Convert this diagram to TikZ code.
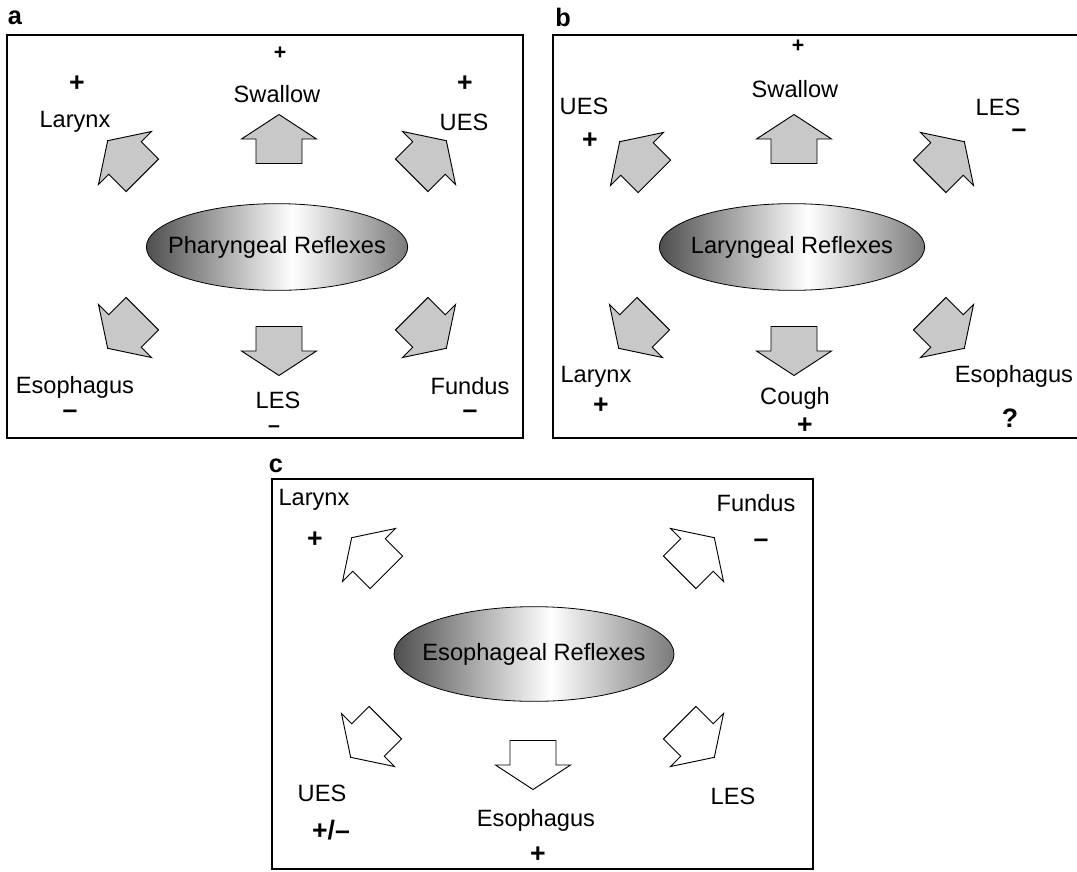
\documentclass[tikz,border=0pt]{standalone}
\usepackage{fontspec}
\setmainfont{Liberation Sans}
\usetikzlibrary{shapes.geometric}

\definecolor{arrowgray}{RGB}{200,200,200}
\definecolor{shadedark}{RGB}{78,78,78}
\definecolor{shadelight}{RGB}{122,122,122}
\pgfdeclarehorizontalshading{reflexshade}{100bp}{color(0bp)=(shadedark); color(25bp)=(shadedark); color(53bp)=(white); color(75bp)=(shadelight); color(100bp)=(shadelight)}

\tikzset{
  panel/.style={line width=1.6pt},
  blockarrow/.style={line width=0.7pt, line join=miter},
  lbl/.style={inner sep=0pt, font=\fontsize{17.7}{21}\selectfont},
  sgn/.style={inner sep=0pt, font=\fontsize{20}{22}\selectfont\bfseries},
  smallsgn/.style={inner sep=0pt, font=\fontsize{16}{18}\selectfont\bfseries},
  tag/.style={inner sep=0pt, font=\fontsize{19}{21}\selectfont\bfseries},
  reflex/.style={ellipse, draw, line width=0.6pt, shade, shading=reflexshade,
    inner xsep=-18pt, inner ysep=0pt, font=\fontsize{17.7}{21}\selectfont}
}

% fat block arrow: centre x, centre y, angle, fill
\newcommand{\blockarrow}[4]{%
  \draw[blockarrow, fill=#4, shift={(#1,#2)}, rotate=#3]
    (24.5,0) -- (0,37.5) -- (0,23) -- (-24.5,23) -- (-24.5,-23) -- (0,-23) -- (0,-37.5) -- cycle;}

\begin{document}
\begin{tikzpicture}[x=0.75pt,y=0.75pt,yscale=-1,xscale=1]
\useasboundingbox (0,0) rectangle (1077,871);

% panel a
\draw[panel] (7,35) rectangle (523,438);
\node[tag] (aTag) at (15,18) {a};
\node[reflex, minimum width=196pt, minimum height=65pt] (aReflex) at (277,247) {Pharyngeal Reflexes};
\blockarrow{279}{139}{-90}{arrowgray}
\blockarrow{279}{351}{90}{arrowgray}
\blockarrow{125}{158}{-135}{arrowgray}
\blockarrow{429}{158}{-45}{arrowgray}
\blockarrow{125}{331}{135}{arrowgray}
\blockarrow{429}{331}{45}{arrowgray}
\node[smallsgn] (aSwallowSgn) at (280,53) {+};
\node[lbl] (aSwallow) at (277,94) {Swallow};
\node[sgn] (aLarynxSgn) at (77,84) {+};
\node[lbl] (aLarynx) at (75,122) {Larynx};
\node[sgn] (aUesSgn) at (465,84) {+};
\node[lbl] (aUes) at (464,122) {UES};
\node[lbl] (aEsophagus) at (75,387) {Esophagus};
\node[sgn] (aEsophagusSgn) at (70,414) {–};
\node[lbl] (aLes) at (278,400) {LES};
\node[smallsgn] (aLesSgn) at (274,429) {–};
\node[lbl] (aFundus) at (470,386) {Fundus};
\node[sgn] (aFundusSgn) at (470,414) {–};

% panel b
\draw[panel] (553,35) rectangle (1080,438);
\node[tag] (bTag) at (563,17) {b};
\node[reflex, minimum width=199pt, minimum height=65pt] (bReflex) at (792,247) {Laryngeal Reflexes};
\blockarrow{794}{139}{-90}{arrowgray}
\blockarrow{794}{351}{90}{arrowgray}
\blockarrow{637}{159}{-135}{arrowgray}
\blockarrow{947}{159}{-45}{arrowgray}
\blockarrow{636}{331}{135}{arrowgray}
\blockarrow{947}{331}{45}{arrowgray}
\node[smallsgn] (bSwallowSgn) at (798,46) {+};
\node[lbl] (bSwallow) at (795,89) {Swallow};
\node[lbl] (bUes) at (584,106) {UES};
\node[sgn] (bUesSgn) at (590,141) {+};
\node[lbl] (bLes) at (998,107) {LES};
\node[sgn] (bLesSgn) at (1019,133) {–};
\node[lbl] (bLarynx) at (596,377) {Larynx};
\node[sgn] (bLarynxSgn) at (601,406) {+};
\node[lbl] (bCough) at (795,398) {Cough};
\node[sgn] (bCoughSgn) at (805,426) {+};
\node[lbl] (bEsophagus) at (1014,376) {Esophagus};
\node[sgn] (bEsophagusSgn) at (1010,418) {?};

% panel c
\draw[panel] (272,479) rectangle (813,869);
\node[tag] (cTag) at (276,466) {c};
\node[reflex, minimum width=210pt, minimum height=71pt] (cReflex) at (534,654) {Esophageal Reflexes};
\blockarrow{369}{555}{-135}{white}
\blockarrow{697}{555}{-45}{white}
\blockarrow{368}{740}{135}{white}
\blockarrow{697}{740}{45}{white}
\blockarrow{533}{765}{90}{white}
\node[lbl] (cLarynx) at (314,500) {Larynx};
\node[sgn] (cLarynxSgn) at (315,540) {+};
\node[lbl] (cFundus) at (756,503) {Fundus};
\node[sgn] (cFundusSgn) at (761,543) {–};
\node[lbl] (cUes) at (322,793) {UES};
\node[sgn] (cUesSgn) at (331,830) {+/–};
\node[lbl] (cLes) at (733,796) {LES};
\node[lbl] (cEsophagus) at (536,820) {Esophagus};
\node[sgn] (cEsophagusSgn) at (538,855) {+};

\end{tikzpicture}
\end{document}
